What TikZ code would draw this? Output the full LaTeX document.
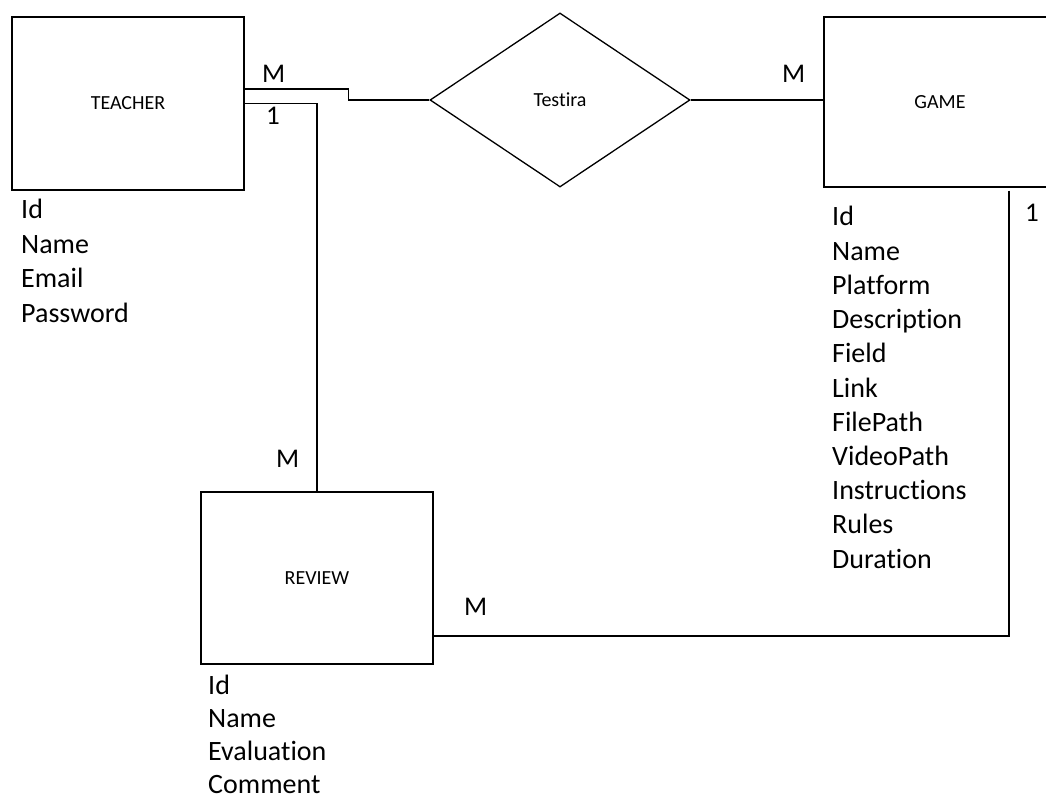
\documentclass[tikz,border=0pt]{standalone}
\usepackage{fontspec}
\setmainfont{Carlito}[Ligatures=CommonOff]
\usetikzlibrary{shapes.geometric}
\begin{document}
\begin{tikzpicture}[x=1pt,y=-1pt,
  entity/.style={draw=black, line width=1.3pt, rectangle, inner sep=0,
    minimum width=232pt, font=\fontsize{20}{24}\selectfont},
  relation/.style={draw=black, line width=1.3pt, diamond, inner sep=0,
    minimum width=260pt, minimum height=174pt, font=\fontsize{20}{24}\selectfont},
  attr/.style={anchor=base west, inner sep=0, font=\fontsize{28}{32}\selectfont},
  card/.style={anchor=base west, inner sep=0, font=\fontsize{27}{30}\selectfont},
  link/.style={draw=black, line width=1.3pt}]
\useasboundingbox (0,0) rectangle (1046,799);
\clip (0,0) rectangle (1046,799);

% entities and relationship
\node[entity, minimum height=173pt] (teacher) at (128,103.5) {TEACHER};
\node[entity, minimum height=170pt] (game) at (940,102) {GAME};
\node[entity, minimum height=172pt] (review) at (317,578) {REVIEW};
\node[relation] (testira) at (560,100) {Testira};

% connectors
\draw[link] ([yshift=14.5pt]teacher.east) -- ++(104,0) |- (testira.west);
\draw[link] (teacher.east) -| (review.north);
\draw[link] (testira.east) -- (testira.east -| game.west);
\draw[link] ([xshift=69pt,yshift=-3pt]game.south) |- ([yshift=-58pt]review.east);

% cardinalities
\node[card] (c1) at (262,83) {M};
\node[card] (c2) at (266,125) {1};
\node[card] (c3) at (782,83) {M};
\node[card] (c4) at (1025,222) {1};
\node[card] (c5) at (276,467) {M};
\node[card] (c6) at (464,615) {M};

% attribute lists
\foreach \t [count=\i] in {Id,Name,Email,Password}
  \node[attr] (ta\i) at (21,{219+34.4*(\i-1)}) {\t};
\foreach \t [count=\i] in {Id,Name,Platform,Description,Field,Link,FilePath,VideoPath,Instructions,Rules,Duration}
  \node[attr] (ga\i) at (832,{226+34.2*(\i-1)}) {\t};
\foreach \t [count=\i] in {Id,Name,Evaluation,Comment}
  \node[attr] (ra\i) at (208,{694+33.3*(\i-1)}) {\t};
\end{tikzpicture}
\end{document}
